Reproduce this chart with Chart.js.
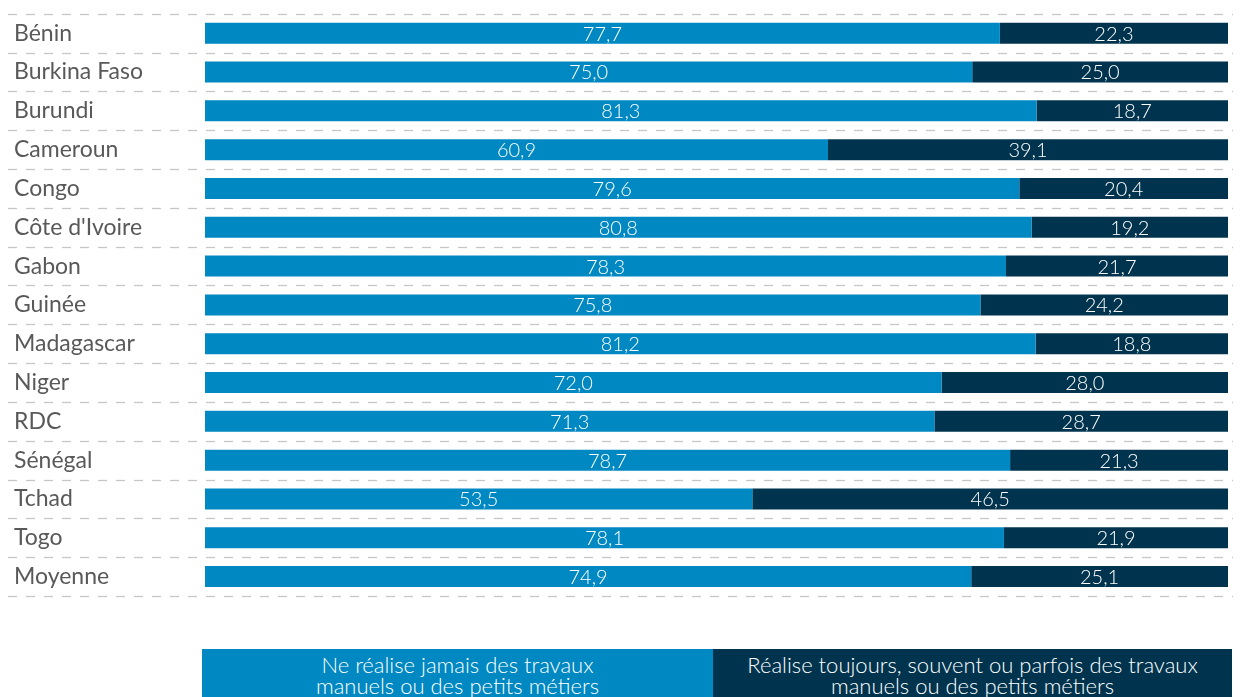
<!DOCTYPE html>
<html>
<head>
<meta charset="utf-8">
<script src="https://cdn.jsdelivr.net/npm/chart.js@4/dist/chart.umd.min.js"></script>
<style>
  html, body { margin: 0; padding: 0; background: #fff; }
  body { width: 1241px; height: 697px; position: relative; overflow: hidden; font-family: Lato, "Open Sans", sans-serif; }
  #wrap { position: absolute; left: 0; top: 0; width: 1241px; height: 620px; }
  .leg { position: absolute; top: 649px; height: 60px; color: #fff; font-weight: 300; font-size: 22px; line-height: 21px; text-align: center; padding-top: 5px; box-sizing: border-box; }
</style>
</head>
<body>
<div id="wrap"><canvas id="c" width="1241" height="620"></canvas></div>
<div class="leg" id="leg1" style="left:202px;width:511px;background:#0088c2;"></div>
<div class="leg" id="leg2" style="left:713px;width:519px;background:#00344e;"></div>
<script>
const categories = ["Bénin","Burkina Faso","Burundi","Cameroun","Congo","Côte d'Ivoire","Gabon","Guinée","Madagascar","Niger","RDC","Sénégal","Tchad","Togo","Moyenne"];
const jamais = [77.7,75.0,81.3,60.9,79.6,80.8,78.3,75.8,81.2,72.0,71.3,78.7,53.5,78.1,74.9];
const parfois = [22.3,25.0,18.7,39.1,20.4,19.2,21.7,24.2,18.8,28.0,28.7,21.3,46.5,21.9,25.1];
const seriesNames = ["Ne réalise jamais des travaux\nmanuels ou des petits métiers","Réalise toujours, souvent ou parfois des travaux\nmanuels ou des petits métiers"];
const colors = ["#0088c2", "#00344e"];

document.getElementById('leg1').innerHTML = seriesNames[0].replace('\n','<br>');
document.getElementById('leg2').innerHTML = seriesNames[1].replace('\n','<br>');

const dashedRows = {
  id: 'dashedRows',
  beforeDatasetsDraw(chart) {
    const y = chart.scales.y, ctx = chart.ctx;
    const n = categories.length;
    const step = (y.getPixelForTick(n-1) - y.getPixelForTick(0)) / (n-1);
    ctx.save();
    ctx.strokeStyle = '#c6c6c6';
    ctx.lineWidth = 1.3;
    ctx.setLineDash([9, 9]);
    for (let i = 0; i <= n; i++) {
      const py = (i < n ? y.getPixelForTick(i) : y.getPixelForTick(n-1) + step) - step/2;
      ctx.beginPath();
      ctx.moveTo(8, Math.round(py) + 0.5);
      ctx.lineTo(1233, Math.round(py) + 0.5);
      ctx.stroke();
    }
    ctx.restore();
  }
};

const valueLabels = {
  id: 'valueLabels',
  afterDatasetsDraw(chart) {
    const ctx = chart.ctx;
    ctx.save();
    ctx.fillStyle = '#ffffff';
    ctx.font = '300 20px Lato, "Open Sans", sans-serif';
    ctx.textAlign = 'center';
    ctx.textBaseline = 'middle';
    chart.data.datasets.forEach((ds, di) => {
      chart.getDatasetMeta(di).data.forEach((bar, i) => {
        const cx = (bar.x + bar.base) / 2;
        ctx.fillText(ds.data[i].toFixed(1).replace('.', ','), cx, bar.y + 1);
      });
    });
    ctx.restore();
  }
};

new Chart(document.getElementById('c'), {
  type: 'bar',
  data: {
    labels: categories,
    datasets: [
      { label: seriesNames[0], data: jamais, backgroundColor: colors[0], borderWidth: 0, barPercentage: 0.54, categoryPercentage: 1 },
      { label: seriesNames[1], data: parfois, backgroundColor: colors[1], borderWidth: 0, barPercentage: 0.54, categoryPercentage: 1 }
    ]
  },
  options: {
    indexAxis: 'y',
    responsive: false,
    animation: false,
    layout: { padding: { left: 14, right: 13, top: 12, bottom: 24 } },
    plugins: { legend: { display: false }, tooltip: { enabled: false } },
    scales: {
      x: { stacked: true, min: 0, max: 100, display: false },
      y: {
        stacked: true,
        grid: { display: false },
        border: { display: false },
        afterFit(scale) { scale.width = 191; },
        ticks: { crossAlign: 'far', color: '#595959', font: { family: 'Lato, "Open Sans", sans-serif', size: 23 }, padding: 0 }
      }
    }
  },
  plugins: [dashedRows, valueLabels]
});
</script>
</body>
</html>
